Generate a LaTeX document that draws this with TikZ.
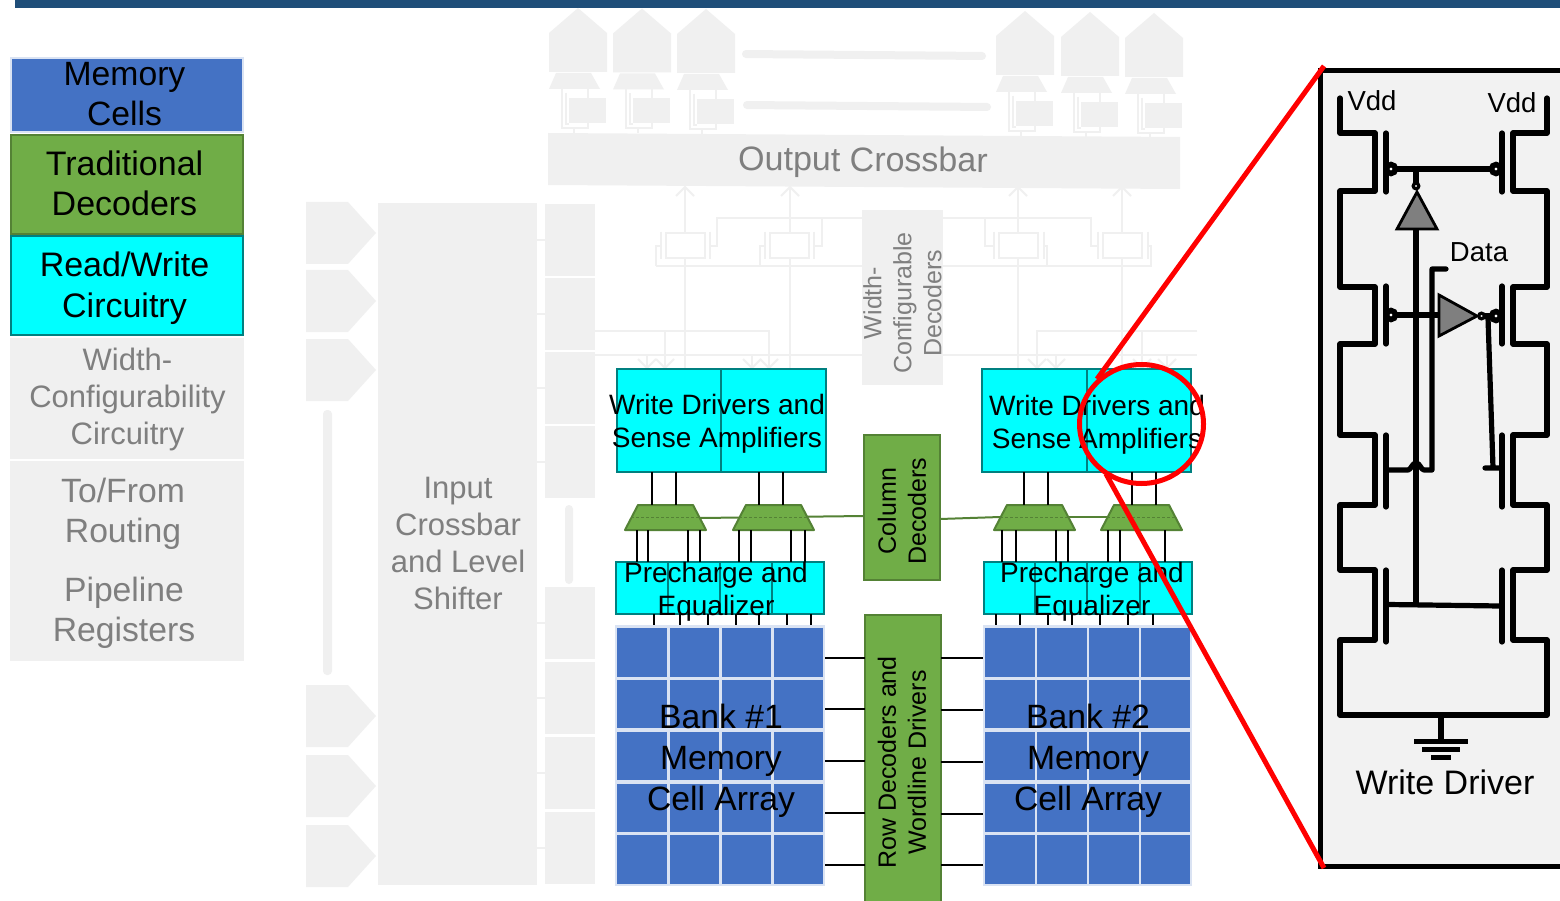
\documentclass[tikz,border=0pt]{standalone}
\usepackage{fontspec}
\setmainfont{Liberation Sans}
\usetikzlibrary{calc}
\definecolor{gbox}{HTML}{F0F0F0}
\definecolor{gtext}{HTML}{7F7F7F}
\definecolor{memblue}{HTML}{4472C4}
\definecolor{memedge}{HTML}{DAE3F3}
\definecolor{grn}{HTML}{70AD47}
\definecolor{grnedge}{HTML}{548235}
\definecolor{cyanfill}{HTML}{00FFFF}
\definecolor{tealedge}{HTML}{008080}
\definecolor{topbar}{HTML}{1F4E79}
\definecolor{panel}{HTML}{F2F2F2}
\tikzset{
  plainbox/.style={inner sep=0pt,outer sep=0pt},
  greybox/.style={plainbox,fill=gbox},
  cellbox/.style={plainbox,fill=memblue},
  legblue/.style={plainbox,fill=memblue,draw=memedge,line width=2pt},
  greenbox/.style={plainbox,fill=grn,draw=grnedge,line width=2.5pt},
  cyanbox/.style={plainbox,fill=cyanfill,draw=tealedge,line width=2.5pt},
  gline/.style={draw=gbox,line width=2pt},
  wire/.style={draw=black,line width=2pt},
  cct/.style={draw=black,line width=5.2pt,line join=round,line cap=round},
  inv/.style={draw=black,line width=2.8pt,fill=gtext,line join=miter},
  bubble/.style={draw=black,line width=5.5pt,fill=white},
  tinybubble/.style={draw=black,line width=3.2pt,fill=white},
  redl/.style={draw=red,line width=5pt},
  lab/.style={inner sep=0pt,outer sep=0pt,align=center,text=black},
  glab/.style={inner sep=0pt,outer sep=0pt,align=center,text=gtext},
}
\newcommand{\bx}[6]{%
  \pgfmathsetmacro{\bw}{#4-#2}\pgfmathsetmacro{\bh}{#5-#3}%
  \pgfmathsetmacro{\bcx}{(#4+#2)/2}\pgfmathsetmacro{\bcy}{(#5+#3)/2}%
  \node[#6,minimum width=\bw pt,minimum height=\bh pt] (#1) at (\bcx,\bcy) {};}
\newcommand{\fnt}[2]{\fontsize{#1}{#2}\selectfont}
\newcommand{\mux}[2]{% name, left of bottom edge
  \pgfmathsetmacro{\ma}{#2}\pgfmathsetmacro{\mb}{#2+13}\pgfmathsetmacro{\mc}{#2+68}\pgfmathsetmacro{\md}{#2+81}\pgfmathsetmacro{\me}{#2+6}\pgfmathsetmacro{\mf}{#2+75}%
  \draw[fill=grn,draw=grnedge,line width=2pt,line join=round] (\ma,530) -- (\mb,505) -- (\mc,505) -- (\md,530) -- cycle;
  \draw[grnedge,line width=1.2pt,densely dashed] (\me,517.5) -- (\mf,517.5);
  \bx{#1}{\mb}{505}{\mc}{530}{plainbox}}
\newcommand{\vw}[3]{\draw[wire] (#2.south -| #1,0) -- (#3.north -| #1,0);}
\begin{document}
\begin{tikzpicture}[x=1pt,y=-1pt]
\clip (0,0) rectangle (1560,901);
\fill[white] (0,0) rectangle (1560,901);
\bx{bar}{15}{-2}{1562}{8.5}{plainbox,fill=topbar}

% legend
\bx{lg1}{11}{58}{243}{132}{legblue}
\bx{lg2}{11}{135}{243}{234}{greenbox}
\bx{lg3}{11}{236}{243}{335}{cyanbox}
\bx{lg4}{10}{338}{244}{459}{greybox}
\bx{lg5}{10}{461}{244}{661}{greybox}
\node[lab,font=\fnt{33.7}{40}] (t1) at (124.5,94.3) {Memory\\Cells};
\node[lab,font=\fnt{34}{40}] (t2) at (124.5,183.2) {Traditional\\Decoders};
\node[lab,font=\fnt{34}{41}] (t3) at (124.5,288) {Read/Write\\Circuitry};
\node[glab,font=\fnt{31}{37}] (t4) at (127.5,399.5) {Width-\\Configurability\\Circuitry};
\node[glab,font=\fnt{33.7}{40}] (t5) at (123,514) {To/From\\Routing};
\node[glab,font=\fnt{33.7}{40}] (t6) at (124,613) {Pipeline\\Registers};

% input pentagons
\foreach \yy in {202,270,339,685,755,825}{
  \fill[gbox] (306,\yy) -- (348,\yy) -- (376,\yy+31) -- (348,\yy+62) -- (306,\yy+62) -- cycle;}
\fill[gbox,rounded corners=4pt] (323,410) rectangle (332,675);
\fill[gbox,rounded corners=4pt] (565,505) rectangle (573,584);
\bx{inx}{378}{203}{537}{885}{greybox}
\node[glab,font=\fnt{31}{36.7}] (t7) at (458,543.5) {Input\\Crossbar\\and Level\\Shifter};
\foreach \a/\b in {204/276,278/350,352/424,426/498,587/659,662/734,737/809,812/884}{
  \fill[gbox] (545,\a) rectangle (595,\b);}
\foreach \yy in {240,314,388,462,623,698,773,848}{\draw[gline] (537,\yy) -- (545,\yy);}

% output section
\foreach \xx/\yy in {549/8,613/8.5,677/9,996/11,1061/12,1125/13}{
  \begin{scope}[shift={(\xx,\yy)}]
  \fill[gbox] (0,25) -- (29,0) -- (58,25) -- (58,64) -- (0,64) -- cycle;
  \fill[gbox] (7,65) -- (42,65) -- (51,81) -- (0,81) -- cycle;
  \fill[gbox] (20,90) rectangle (57,115);
  \draw[gline] (13,81) -- (13,120) -- (39,120) -- (39,115);
  \draw[gline] (17,85) -- (17,116) -- (20,116);
  \draw[gline] (39,81) -- (39,90);
  \draw[gline] (25,120) -- (25,125);
  \end{scope}}
\fill[gbox,rounded corners=4pt] (742,50) -- (986,52) -- (986,60) -- (742,58) -- cycle;
\fill[gbox,rounded corners=4pt] (743,101) -- (991,103) -- (991,111) -- (743,109) -- cycle;
\fill[gbox] (548,133) -- (1180,137) -- (1180,189) -- (548,185) -- cycle;
\node[glab,font=\fnt{34}{40},rotate=-0.4] (t8) at (863,162.5) {Output Crossbar};

% grey circuits
\bx{wcd}{862}{210}{943}{385}{greybox}
\foreach \xx in {685,790,1018,1122}{
  \draw[gline] (\xx,187) -- (\xx,233);
  \draw[gline] (\xx-9,196) -- (\xx,187) -- (\xx+9,196);
  \draw[gline] (\xx,258) -- (\xx,368);}
\foreach \xx in {666,770,999,1103}{
  \draw[gline,line width=2.5pt] (\xx,233) rectangle (\xx+39,258);}
\foreach \xx in {661,765,1044,1148}{\draw[gline] (\xx,232) -- (\xx,259);}
\foreach \xx in {710,814,994,1098}{\draw[gline] (\xx,232) -- (\xx,259);}
\draw[gline] (661,246) -- (656,246) -- (656,266);
\draw[gline] (765,246) -- (760,246) -- (760,266);
\draw[gline] (656,266) -- (862,266);
\draw[gline] (710,246) -- (717,246) -- (717,218) -- (862,218);
\draw[gline] (814,246) -- (822,246) -- (822,218);
\draw[gline] (943,218) -- (1091,218) -- (1091,246) -- (1098,246);
\draw[gline] (985,218) -- (985,246) -- (994,246);
\draw[gline] (943,266) -- (1151,266) -- (1151,246) -- (1148,246);
\draw[gline] (1047,266) -- (1047,246) -- (1044,246);
\draw[gline] (595,331) -- (769,331) -- (769,368);
\draw[gline] (665,331) -- (665,368);
\draw[gline] (595,355) -- (862,355);
\draw[gline] (647,355) -- (647,368);
\draw[gline] (752,355) -- (752,368);
\draw[gline] (1197,331) -- (1037,331) -- (1037,368);
\draw[gline] (1142,331) -- (1142,368);
\draw[gline] (943,355) -- (1197,355);
\draw[gline] (1056,355) -- (1056,368);
\draw[gline] (1167,355) -- (1167,368);
\foreach \xx in {647,665,752,769,1037,1056,1142,1167}{
  \draw[gline] (\xx-9,359) -- (\xx,368) -- (\xx+9,359);}
\node[glab,font=\fnt{25}{30},rotate=90] (t9) at (902.5,303) {Width-\\Configurable\\Decoders};

% banks
\bx{wd1a}{617}{369}{721}{472}{cyanbox}
\bx{wd1b}{721}{369}{826}{472}{cyanbox}
\bx{wd2a}{982}{369}{1087}{472}{cyanbox}
\bx{wd2b}{1087}{369}{1191}{472}{cyanbox}
\node[lab,font=\fnt{28}{33}] (t10) at (717,424) {Write Drivers and\\Sense Amplifiers};
\node[lab,font=\fnt{28}{33}] (t11) at (1097,424.5) {Write Drivers and\\Sense Amplifiers};

\bx{coldec}{864}{435}{940}{580}{greenbox}
\bx{rowdec}{865}{615}{941}{905}{greenbox}
\draw[grnedge,line width=2pt] (700,518) -- (864,516);
\draw[grnedge,line width=2pt] (940,519) -- (1000,517);
\draw[grnedge,line width=2pt] (1068,517) -- (1108,517);
\mux{m1}{625}
\mux{m2}{733}
\mux{m3}{994}
\mux{m4}{1101}
\node[lab,font=\fnt{25}{30},rotate=90] (t12) at (902,511) {Column\\Decoders};
\node[lab,font=\fnt{25}{30},rotate=90] (t13) at (902,762.5) {Row Decoders and\\Wordline Drivers};

\foreach \xx in {652,676}{\vw{\xx}{wd1a}{m1}}
\foreach \xx in {759,783}{\vw{\xx}{wd1b}{m2}}
\foreach \xx in {1024,1048}{\vw{\xx}{wd2a}{m3}}
\foreach \xx in {1132,1156}{\vw{\xx}{wd2b}{m4}}

\bx{pc1a}{616}{562}{668}{614}{cyanbox}
\bx{pc1b}{668}{562}{720}{614}{cyanbox}
\bx{pc1c}{720}{562}{772}{614}{cyanbox}
\bx{pc1d}{772}{562}{824}{614}{cyanbox}
\bx{pc2a}{984}{562}{1035}{614}{cyanbox}
\bx{pc2b}{1035}{562}{1087}{614}{cyanbox}
\bx{pc2c}{1087}{562}{1140}{614}{cyanbox}
\bx{pc2d}{1140}{562}{1192}{614}{cyanbox}
\foreach \xx/\nn in {637/pc1a,648/pc1a,688/pc1b,700/pc1b}{\draw[wire] (\xx,530) -- (\nn.north -| \xx,0);}
\foreach \xx/\nn in {739/pc1c,751/pc1c,791/pc1d,805/pc1d}{\draw[wire] (\xx,530) -- (\nn.north -| \xx,0);}
\foreach \xx/\nn in {1002/pc2a,1016/pc2a,1056/pc2b,1068/pc2b}{\draw[wire] (\xx,530) -- (\nn.north -| \xx,0);}
\foreach \xx/\nn in {1108/pc2c,1120/pc2c,1165/pc2d}{\draw[wire] (\xx,530) -- (\nn.north -| \xx,0);}

% arrays
\bx{arr1}{615}{625}{825}{886}{plainbox,fill=memedge}
\bx{arr2}{983}{625}{1192}{886}{plainbox,fill=memedge}
\foreach \ya/\yb in {628/677,680/728,732/780,784/832,835/884}{
  \foreach \xa/\xb in {617/667,670/719,722/771,774/823,985/1035,1037/1087,1089/1139,1141/1190}{
    \fill[memblue] (\xa,\ya) rectangle (\xb,\yb);}}
\foreach \xx in {654,680,708,736,759,787,811}{\draw[wire] (\xx,614) -- (arr1.north -| \xx,0);}
\foreach \xx in {996,1020,1048,1072,1100,1128,1153}{\draw[wire] (\xx,614) -- (arr2.north -| \xx,0);}
\foreach \yy in {658,709,761,813,865}{\draw[wire] (arr1.east |- 0,\yy) -- (rowdec.west |- 0,\yy);}
\foreach \yy in {658,710,762,814,865}{\draw[wire] (rowdec.east |- 0,\yy) -- (arr2.west |- 0,\yy);}

\node[lab,font=\fnt{28}{33}] (t14) at (716,592) {Precharge and\\Equalizer};
\node[lab,font=\fnt{28}{33}] (t15) at (1092,592) {Precharge and\\Equalizer};
\node[lab,font=\fnt{33.7}{41}] (t16) at (721,760.5) {Bank \#1\\Memory\\Cell Array};
\node[lab,font=\fnt{33.7}{41}] (t17) at (1088,761) {Bank \#2\\Memory\\Cell Array};

% write driver panel
\bx{panelbox}{1320}{71}{1580}{866}{plainbox,fill=panel,draw=black,line width=5pt}
\draw[cct] (1340,98) -- (1340,133) -- (1375,133) -- (1375,191) -- (1340,191) -- (1340,287) -- (1375,287) -- (1375,344) -- (1340,344) -- (1340,435) -- (1375,435) -- (1375,505) -- (1340,505) -- (1340,570) -- (1375,570) -- (1375,640) -- (1340,640) -- (1340,715) -- (1547,715) -- (1547,640) -- (1513,640) -- (1513,570) -- (1547,570) -- (1547,505) -- (1513,505) -- (1513,435) -- (1547,435) -- (1547,344) -- (1513,344) -- (1513,287) -- (1547,287) -- (1547,191) -- (1513,191) -- (1513,133) -- (1547,133) -- (1547,98);
\foreach \a/\b in {133/192,286/344,435/507,570/642}{
  \draw[cct] (1386,\a) -- (1386,\b);
  \draw[cct] (1502,\a) -- (1502,\b);}
\draw[cct,line cap=butt] (1391,169) -- (1497,169);
\draw[cct,line cap=butt] (1416,169) -- (1416,186);
\draw[cct,line cap=butt] (1391,315) -- (1438,315);
\draw[cct,line cap=butt] (1416,229) -- (1416,605);
\draw[cct,line cap=butt] (1388,604.5) -- (1500,606);
\draw[cct] (1446,269) -- (1432,269) -- (1432,470) -- (1424,470) .. controls (1421,470) and (1420,463) .. (1416,463) .. controls (1412,463) and (1411,470) .. (1408,470) -- (1388,470);
\draw[cct] (1488,318) -- (1493,468) (1485,468) -- (1500,468);
\draw[inv] (1417,192) -- (1437,229) -- (1397,229) -- cycle;
\draw[inv] (1439,295) -- (1477,316) -- (1439,336) -- cycle;
\draw[cct,line cap=butt] (1484,316) -- (1491,316);
\foreach \xx/\yy in {1391/169,1496/169,1391/315,1496/316}{\draw[bubble] (\xx,\yy) circle (4.5pt);}
\draw[tinybubble] (1416,186) circle (2.8pt);
\draw[tinybubble] (1481.5,316) circle (2.8pt);
\draw[cct,line cap=butt] (1441,715) -- (1441,741);
\draw[black,line width=5pt] (1414,741) -- (1468,741);
\draw[black,line width=5pt] (1422,749) -- (1460,749);
\draw[black,line width=5pt] (1431,757) -- (1451,757);
\node[lab,font=\fnt{27.5}{30}] (t18) at (1372,101) {Vdd};
\node[lab,font=\fnt{27.5}{30}] (t19) at (1512,103) {Vdd};
\node[lab,font=\fnt{27.5}{30}] (t20) at (1479,252) {Data};
\node[lab,font=\fnt{34}{40}] (t21) at (1445,782) {Write Driver};

% red zoom callout
\draw[redl] (1141.5,424) ellipse (62pt and 59.5pt);
\coordinate (cc1) at (1097,379);
\coordinate (cc2) at (1106,474);
\draw[redl] (1324,66) -- (cc1);
\draw[redl] (1324,868) -- (cc2);
\end{tikzpicture}
\end{document}
